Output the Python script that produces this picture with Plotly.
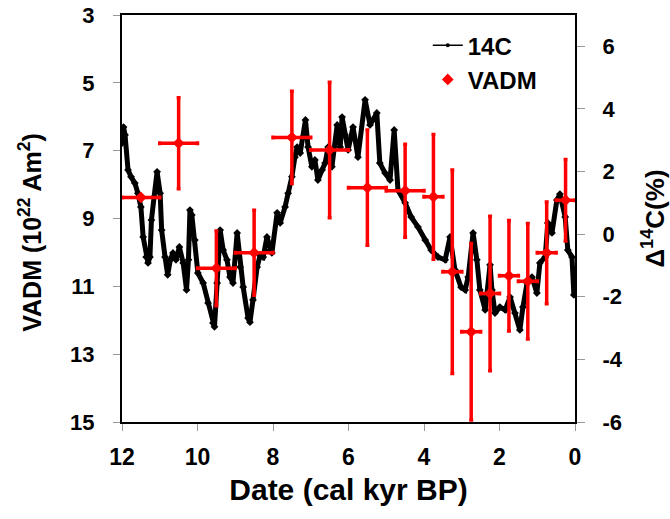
import plotly.graph_objects as go

# 14C record (Delta 14C, %) vs date (cal kyr BP)
c14_date = [12.00, 11.96, 11.92, 11.84, 11.76, 11.66, 11.58, 11.50, 11.44, 11.36, 11.31, 11.26,
            11.22, 11.15, 11.07, 10.99, 10.95, 10.86, 10.79, 10.72, 10.65, 10.57, 10.48, 10.38,
            10.29, 10.24, 10.20, 10.15, 10.07, 9.99, 9.85, 9.72, 9.59, 9.55, 9.48, 9.40,
            9.32, 9.22, 9.14, 9.06, 8.95, 8.87, 8.79, 8.66, 8.61, 8.53, 8.42, 8.34,
            8.26, 8.16, 8.08, 8.03, 7.89, 7.81, 7.68, 7.60, 7.50, 7.42, 7.36, 7.28,
            7.21, 7.14, 7.07, 6.97, 6.89, 6.81, 6.70, 6.62, 6.54, 6.44, 6.30, 6.22,
            6.17, 6.09, 6.01, 5.88, 5.75, 5.56, 5.43, 5.25, 5.17, 5.03, 4.90, 4.79,
            4.69, 4.50, 4.34, 4.16, 3.97, 3.81, 3.63, 3.44, 3.31, 3.18, 3.02, 2.91,
            2.83, 2.70, 2.60, 2.52, 2.38, 2.25, 2.20, 2.12, 1.99, 1.85, 1.72, 1.59,
            1.46, 1.38, 1.27, 1.14, 1.01, 0.93, 0.79, 0.72, 0.61, 0.48, 0.40, 0.26,
            0.19, 0.08, 0.03]
c14_val = [2.91, 3.42, 3.17, 2.05, 1.83, 1.63, 1.31, 0.87, -0.09, -0.73, -0.92, -0.73,
           0.45, 1.19, 1.99, 1.31, 0.13, -0.73, -1.30, -0.82, -0.60, -0.82, -0.41, -0.92,
           -1.78, -0.82, 0.77, 0.61, -0.19, -1.24, -1.56, -2.20, -2.84, -2.96, -1.56, 0.13,
           -0.51, -0.82, -1.37, -1.56, 0.04, -1.05, -1.69, -2.68, -2.81, -2.10, -1.05, -0.67,
           -0.73, -0.09, -0.51, -0.60, 0.68, 0.36, 0.87, 1.31, 1.83, 2.46, 2.78, 2.59,
           3.10, 3.65, 2.78, 2.15, 2.37, 1.73, 2.05, 2.27, 2.78, 2.15, 3.49, 2.78,
           3.74, 3.17, 2.69, 3.42, 2.46, 4.29, 3.49, 3.87, 2.27, 1.95, 1.73, 3.33,
           1.41, 1.00, 0.55, 0.23, -0.19, -0.51, -0.73, -0.82, -0.09, -1.14, -1.69, -1.78,
           -1.37, 0.04, -0.82, -1.78, -2.42, -0.98, -1.78, -2.52, -2.33, -2.42, -2.01, -2.52,
           -3.06, -2.33, -1.56, -1.37, -1.88, -0.92, -0.73, 0.36, 0.04, 1.09, 1.28, 0.55,
           -0.51, -0.73, -1.94]

# VADM (10^22 Am^2) archaeomagnetic means
vadm_date = [11.5, 10.5, 9.5, 8.5, 7.5, 6.5, 5.5, 4.5, 3.75, 3.25, 2.75, 2.25, 1.75, 1.25, 0.75, 0.25]
vadm_date_err = [0.5, 0.5, 0.5, 0.5, 0.5, 0.5, 0.5, 0.5, 0.25, 0.25, 0.25, 0.25, 0.25, 0.25, 0.25, 0.25]
vadm_val = [8.38, 6.78, 10.47, 10.01, 6.61, 6.98, 8.09, 8.18, 8.36, 10.57, 12.34, 11.21, 10.69, 10.85, 10.01, 8.46]
vadm_err = [0.0, 1.34, 1.1, 1.25, 1.36, 2.0, 1.7, 1.37, 1.84, 3.0, 2.6, 2.28, 1.63, 1.7, 1.5, 1.2]

x_ticks = [12, 10, 8, 6, 4, 2, 0]
vadm_ticks = [3, 5, 7, 9, 11, 13, 15]
c14_ticks = [-6, -4, -2, 0, 2, 4, 6]

FONT = "Liberation Sans, Arial, sans-serif"

fig = go.Figure()
# thick band-like 14C curve
fig.add_trace(go.Scatter(
    x=c14_date, y=c14_val, name="14C", yaxis="y",
    mode="lines+markers", showlegend=False,
    line=dict(color="black", width=5),
    marker=dict(color="black", size=6, symbol="diamond"),
))
# legend entry for 14C (thin line with dot, as in the reference key)
fig.add_trace(go.Scatter(
    x=[None], y=[None], name="<b>14C</b>", yaxis="y",
    mode="lines+markers",
    line=dict(color="black", width=1.5),
    marker=dict(color="black", size=4, symbol="circle"),
))
fig.add_trace(go.Scatter(
    x=vadm_date, y=vadm_val, name="<b>VADM</b>", yaxis="y2",
    mode="markers",
    marker=dict(color="#ff0000", size=9, symbol="diamond"),
    error_x=dict(type="data", array=vadm_date_err, color="#ff0000", thickness=3.5, width=2),
    error_y=dict(type="data", array=vadm_err, color="#ff0000", thickness=3.5, width=2),
))

fig.update_layout(
    width=670, height=519,
    margin=dict(l=122, r=95, t=15, b=97, autoexpand=False),
    paper_bgcolor="white", plot_bgcolor="white",
    font=dict(family=FONT, size=22, color="black"),
    showlegend=True,
    legend=dict(x=0.675, y=0.98, xanchor="left", yanchor="top",
                bgcolor="rgba(0,0,0,0)", font=dict(size=24, family=FONT),
                itemwidth=30, tracegroupgap=2),
    xaxis=dict(
        range=[12, 0], tickvals=x_ticks, ticktext=[f"<b>{v}</b>" for v in x_ticks],
        showline=True, linecolor="black", linewidth=2, mirror=True,
        ticks="outside", ticklen=7, tickcolor="#999999", tickwidth=1,
        ticklabelstandoff=6, tickfont=dict(size=23),
        showgrid=False, zeroline=False, automargin=False,
        title=dict(text="<b>Date (cal kyr BP)</b>", font=dict(size=30, family=FONT), standoff=10),
    ),
    yaxis=dict(
        side="right", range=[-6, 7], tickvals=c14_ticks,
        ticktext=[f"<b>{v}</b>" for v in c14_ticks],
        showline=True, linecolor="black", linewidth=2,
        ticks="outside", ticklen=8, tickcolor="#999999", tickwidth=1,
        ticklabelstandoff=13, tickfont=dict(size=22),
        showgrid=False, zeroline=False, automargin=False,
        title=dict(text="<b>Δ<sup>14</sup>C(%)</b>", font=dict(size=26, family=FONT), standoff=24),
    ),
    yaxis2=dict(
        side="left", overlaying="y", range=[15, 3], tickvals=vadm_ticks,
        ticktext=[f"<b>{v}</b>" for v in vadm_ticks],
        showline=True, linecolor="black", linewidth=2,
        ticks="outside", ticklen=7, tickcolor="#999999", tickwidth=1,
        ticklabelstandoff=14, tickfont=dict(size=22),
        showgrid=False, zeroline=False, automargin=False,
    ),
    annotations=[dict(
        text="<b>VADM (10<sup>22</sup> Am<sup>2</sup>)</b>", textangle=-90,
        xref="paper", yref="paper", x=-0.203, y=0.465,
        xanchor="center", yanchor="middle", showarrow=False,
        font=dict(size=25, family=FONT, color="black"),
    )],
)

fig.write_html("out.html")
